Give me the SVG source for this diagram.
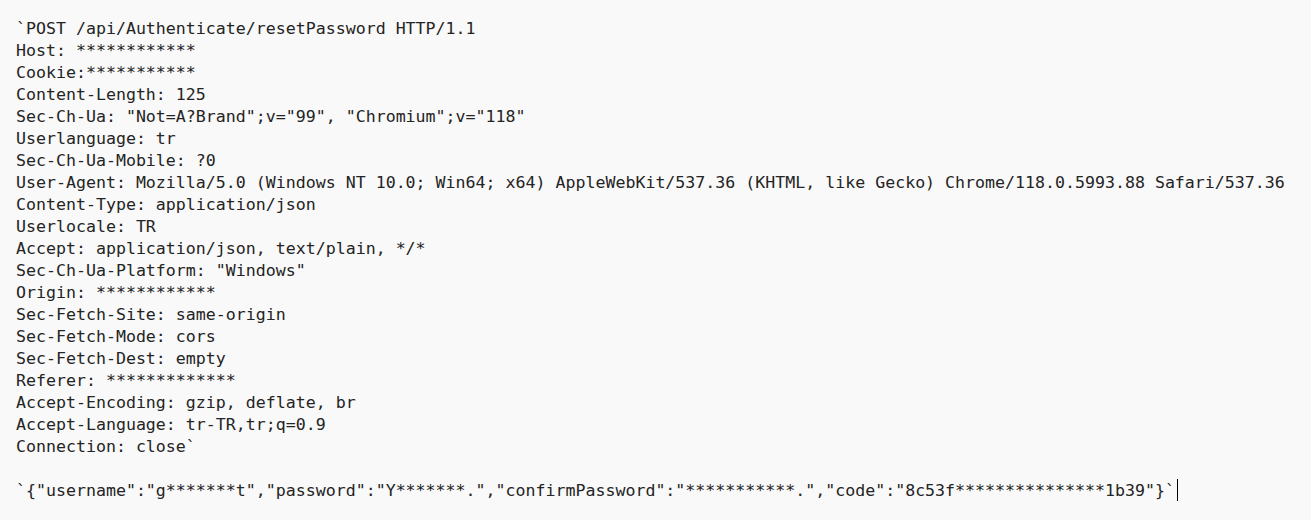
<svg xmlns="http://www.w3.org/2000/svg" width="1311" height="520" viewBox="0 0 1311 520">
<style>
.t{font-family:"DejaVu Sans Mono","Liberation Mono",monospace;font-size:16.6px;fill:#242424;white-space:pre}
</style>
<rect x="0" y="0" width="1311" height="520" fill="#f9f9f9"/>
<g id="request">
<text class="t" x="16" y="34">`POST /api/Authenticate/resetPassword HTTP/1.1</text>
<text class="t" x="16" y="56">Host: ************</text>
<text class="t" x="16" y="78">Cookie:***********</text>
<text class="t" x="16" y="100">Content-Length: 125</text>
<text class="t" x="16" y="122">Sec-Ch-Ua: "Not=A?Brand";v="99", "Chromium";v="118"</text>
<text class="t" x="16" y="144">Userlanguage: tr</text>
<text class="t" x="16" y="166">Sec-Ch-Ua-Mobile: ?0</text>
<text class="t" x="16" y="188">User-Agent: Mozilla/5.0 (Windows NT 10.0; Win64; x64) AppleWebKit/537.36 (KHTML, like Gecko) Chrome/118.0.5993.88 Safari/537.36</text>
<text class="t" x="16" y="210">Content-Type: application/json</text>
<text class="t" x="16" y="232">Userlocale: TR</text>
<text class="t" x="16" y="254">Accept: application/json, text/plain, */*</text>
<text class="t" x="16" y="276">Sec-Ch-Ua-Platform: "Windows"</text>
<text class="t" x="16" y="298">Origin: ************</text>
<text class="t" x="16" y="320">Sec-Fetch-Site: same-origin</text>
<text class="t" x="16" y="342">Sec-Fetch-Mode: cors</text>
<text class="t" x="16" y="364">Sec-Fetch-Dest: empty</text>
<text class="t" x="16" y="386">Referer: *************</text>
<text class="t" x="16" y="408">Accept-Encoding: gzip, deflate, br</text>
<text class="t" x="16" y="430">Accept-Language: tr-TR,tr;q=0.9</text>
<text class="t" x="16" y="452">Connection: close`</text>
<text class="t" x="16" y="496">`{"username":"g*******t","password":"Y*******.","confirmPassword":"***********.","code":"8c53f***************1b39"}`</text>
</g>
<line x1="1177.5" y1="479" x2="1177.5" y2="501" stroke="#000" stroke-width="1"/>
</svg>
